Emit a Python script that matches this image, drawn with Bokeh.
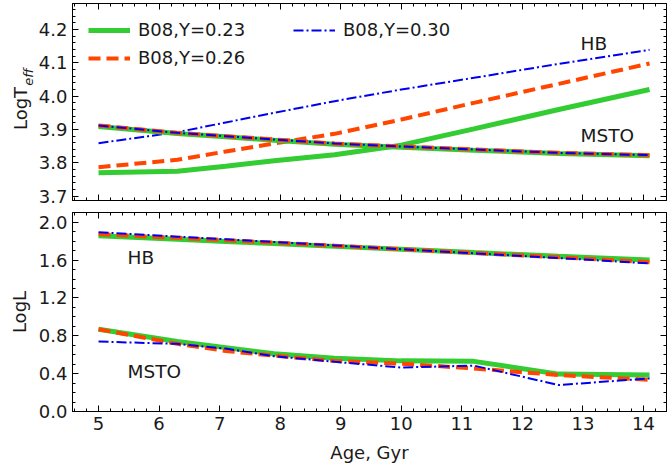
from bokeh.plotting import figure
from bokeh.layouts import column
from bokeh.models import (Range1d, LinearAxis, SingleIntervalTicker, FixedTicker,
                          Legend, LegendItem, Label, PrintfTickFormatter)
from bokeh.embed import file_html
from bokeh.resources import INLINE

# Isochrone ages (Gyr)
age = [5.0, 6.3, 7.1, 7.9, 8.9, 10.0, 11.2, 12.6, 14.1]

# log Teff of the horizontal branch
teff_hb_y23 = [3.770, 3.775, 3.790, 3.806, 3.824, 3.853, 3.902, 3.960, 4.020]
teff_hb_y26 = [3.787, 3.809, 3.834, 3.858, 3.887, 3.930, 3.980, 4.037, 4.098]
teff_hb_y30 = [3.859, 3.892, 3.921, 3.950, 3.985, 4.020, 4.055, 4.097, 4.139]

# log Teff of the main-sequence turn-off
teff_msto_y23 = [3.909, 3.888, 3.878, 3.868, 3.856, 3.847, 3.838, 3.828, 3.821]
teff_msto_y26 = [3.912, 3.890, 3.880, 3.870, 3.858, 3.849, 3.840, 3.830, 3.823]
teff_msto_y30 = [3.912, 3.890, 3.880, 3.870, 3.858, 3.849, 3.840, 3.830, 3.823]

# log L of the horizontal branch
logl_hb_y23 = [1.857, 1.820, 1.797, 1.775, 1.745, 1.715, 1.680, 1.640, 1.600]
logl_hb_y26 = [1.875, 1.835, 1.810, 1.785, 1.752, 1.715, 1.675, 1.630, 1.578]
logl_hb_y30 = [1.895, 1.848, 1.820, 1.792, 1.755, 1.715, 1.672, 1.622, 1.565]

# log L of the main-sequence turn-off
logl_msto_y23 = [0.870, 0.740, 0.675, 0.610, 0.562, 0.535, 0.530, 0.395, 0.385]
logl_msto_y26 = [0.870, 0.715, 0.640, 0.590, 0.535, 0.505, 0.455, 0.385, 0.335]
logl_msto_y30 = [0.739, 0.715, 0.665, 0.585, 0.525, 0.465, 0.485, 0.280, 0.350]

labels = ["B08,Y=0.23", "B08,Y=0.26", "B08,Y=0.30"]

FONT = "DejaVu Sans"
TXT = "#1a1a1a"
GREEN, ORANGE, BLUE = "#33cc33", "#ff4500", "#0000ee"
STYLES = [
    dict(line_color=GREEN, line_width=5),
    dict(line_color=ORANGE, line_width=4, line_dash="12 6"),
    dict(line_color=BLUE, line_width=2, line_dash="10 3 2 3"),
]

X0, X1 = 4.57, 14.38
TOP_H, BOT_H = 206, 266


def style_axis(ax, show_labels):
    ax.major_tick_in = 6
    ax.major_tick_out = 0
    ax.minor_tick_in = 3
    ax.minor_tick_out = 0
    ax.axis_line_color = "black"
    ax.major_tick_line_color = "black"
    ax.minor_tick_line_color = "black"
    ax.major_label_text_font = FONT
    if show_labels:
        ax.major_label_text_font_size = "18px"
        ax.major_label_text_color = TXT
        ax.major_label_standoff = 5
    else:
        # tick marks only on the mirrored sides
        ax.major_label_text_font_size = "0px"
        ax.major_label_text_color = None
        ax.major_label_text_alpha = 0
        ax.major_label_standoff = 0


def make_panel(y0, y1, height, b_top, b_bottom, y_interval, y_minor, x_labels):
    p = figure(width=667, height=height, x_range=Range1d(X0, X1),
               y_range=Range1d(y0, y1), output_backend="svg",
               toolbar_location=None, x_axis_location=None,
               y_axis_location=None, min_border_left=72,
               min_border_right=1, min_border_top=b_top,
               min_border_bottom=b_bottom)
    for g in p.grid:
        g.visible = False
    p.outline_line_color = "black"
    p.outline_line_width = 1
    p.background_fill_color = "white"
    p.border_fill_color = "white"

    xt = SingleIntervalTicker(interval=1, num_minor_ticks=5)
    yt = SingleIntervalTicker(interval=y_interval, num_minor_ticks=y_minor)
    bottom = LinearAxis(ticker=xt)
    style_axis(bottom, x_labels)
    top = LinearAxis(ticker=xt)
    style_axis(top, False)
    left = LinearAxis(ticker=yt, formatter=PrintfTickFormatter(format="%.1f"))
    style_axis(left, True)
    right = LinearAxis(ticker=yt)
    style_axis(right, False)
    p.add_layout(bottom, "below")
    p.add_layout(top, "above")
    p.add_layout(left, "left")
    p.add_layout(right, "right")
    return p, bottom, left


def title_axis(text, y, size, style, standoff):
    """A bare left axis whose single tick label serves as a title piece."""
    ax = LinearAxis(ticker=FixedTicker(ticks=[y], minor_ticks=[]),
                    major_label_overrides={y: text})
    ax.axis_line_color = None
    ax.major_tick_line_color = None
    ax.minor_tick_line_color = None
    ax.major_tick_in = 0
    ax.major_tick_out = 0
    ax.minor_tick_in = 0
    ax.minor_tick_out = 0
    ax.major_label_orientation = "parallel"
    ax.major_label_standoff = standoff
    ax.major_label_text_font = FONT
    ax.major_label_text_font_size = size
    ax.major_label_text_font_style = style
    ax.major_label_text_color = TXT
    return ax


# --- upper panel: effective temperature ---
p1, _, _ = make_panel(3.687, 4.278, TOP_H, 3, 6, 0.1, 5, False)

# y-axis title LogT with an italic "eff" subscript
p1.add_layout(title_axis("eff", 4.057, "13px", "italic", -1), "left")
p1.add_layout(title_axis("LogT", 3.963, "18px", "normal", -12), "left")

hb_teff = [teff_hb_y23, teff_hb_y26, teff_hb_y30]
msto_teff = [teff_msto_y23, teff_msto_y26, teff_msto_y30]
hb_rends = []
for ys, st in zip(hb_teff, STYLES):
    hb_rends.append(p1.line(age, ys, **st))
for ys, st in zip(msto_teff, STYLES):
    p1.line(age, ys, **st)

leg_kw = dict(border_line_color=None, background_fill_alpha=0, padding=0,
              margin=0, spacing=7, glyph_width=42, label_standoff=8,
              label_text_font=FONT, label_text_font_size="18px",
              label_text_color=TXT)
leg1 = Legend(items=[LegendItem(label=labels[0], renderers=[hb_rends[0]]),
                     LegendItem(label=labels[1], renderers=[hb_rends[1]])],
              location=(16, 132), **leg_kw)
leg2 = Legend(items=[LegendItem(label=labels[2], renderers=[hb_rends[2]])],
              location=(221, 160), **leg_kw)
p1.add_layout(leg1)
p1.add_layout(leg2)

txt_kw = dict(text_font=FONT, text_font_size="18.5px", text_color=TXT,
              text_baseline="middle", text_align="left")
p1.add_layout(Label(x=12.96, y=4.158, text="HB", **txt_kw))
p1.add_layout(Label(x=12.96, y=3.882, text="MSTO", **txt_kw))

# --- lower panel: luminosity ---
p2, xax, yax = make_panel(0.0, 2.103, BOT_H, 6, 61, 0.4, 4, True)
xax.axis_label = "Age, Gyr"
yax.axis_label = "LogL"
for ax in (xax, yax):
    ax.axis_label_text_font = FONT
    ax.axis_label_text_font_size = "18px"
    ax.axis_label_text_font_style = "normal"
    ax.axis_label_text_color = TXT
xax.axis_label_standoff = 9
yax.axis_label_standoff = 6

for ys, st in zip([logl_hb_y23, logl_hb_y26, logl_hb_y30], STYLES):
    p2.line(age, ys, **st)
for ys, st in zip([logl_msto_y23, logl_msto_y26, logl_msto_y30], STYLES):
    p2.line(age, ys, **st)

p2.add_layout(Label(x=5.48, y=1.624, text="HB", **txt_kw))
p2.add_layout(Label(x=5.48, y=0.418, text="MSTO", **txt_kw))

layout = column(p1, p2, spacing=0)
open("out.html", "w").write(file_html(layout, INLINE))
